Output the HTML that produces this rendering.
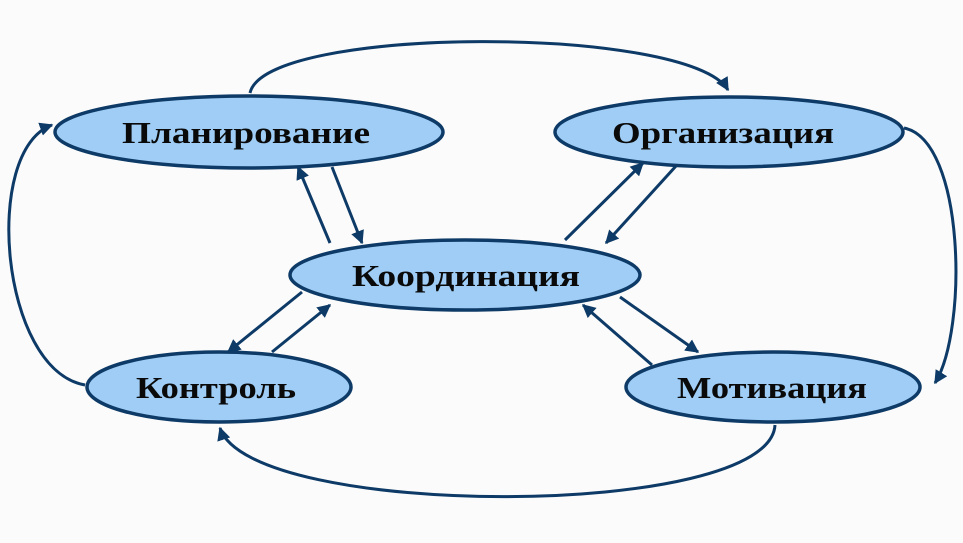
<!DOCTYPE html>
<html><head><meta charset="utf-8"><style>
html,body{margin:0;padding:0;background:#fbfbfb;}
svg{display:block}
text{font-family:"Liberation Serif",serif;font-weight:bold;font-size:31px;fill:#0a0a0a;}
</style></head><body>
<svg width="963" height="543" viewBox="0 0 963 543" xmlns="http://www.w3.org/2000/svg">
<defs>
<marker id="a" viewBox="0 0 10 10" refX="9" refY="5" markerWidth="4.5" markerHeight="4.5" orient="auto" markerUnits="strokeWidth">
<path d="M0,0 L10,5 L0,10 z" fill="#0d3a66"/></marker>
</defs>
<g fill="none" stroke="#0d3a66" stroke-width="3" marker-end="url(#a)">
<path d="M250,93 C265,25 690,25 728,90"/>
<path d="M904,128 C965,140 968,330 935,383"/>
<path d="M775,425 C770,520 250,520 220,428"/>
<path d="M85,385 C0,370 -18,150 52,125"/>
<line x1="330" y1="243" x2="298" y2="167"/>
<line x1="332" y1="167" x2="362" y2="243"/>
<line x1="565" y1="240" x2="643" y2="163"/>
<line x1="676" y1="166" x2="606" y2="243"/>
<line x1="302" y1="292" x2="228" y2="352"/>
<line x1="272" y1="352" x2="330" y2="305"/>
<line x1="620" y1="297" x2="698" y2="352"/>
<line x1="652" y1="365" x2="583" y2="305"/>
</g>
<g fill="#9fcdf5" stroke="#0d3a66" stroke-width="3.5">
<ellipse cx="249" cy="132" rx="194" ry="36"/>
<ellipse cx="729" cy="132" rx="174" ry="35"/>
<ellipse cx="465" cy="275" rx="175" ry="35"/>
<ellipse cx="219" cy="387" rx="132" ry="35"/>
<ellipse cx="773" cy="387" rx="147" ry="35"/>
</g>
<text x="122" y="143" textLength="248" lengthAdjust="spacingAndGlyphs">Планирование</text>
<text x="612" y="143" textLength="222" lengthAdjust="spacingAndGlyphs">Организация</text>
<text x="352" y="286" textLength="228" lengthAdjust="spacingAndGlyphs">Координация</text>
<text x="136" y="398" textLength="160" lengthAdjust="spacingAndGlyphs">Контроль</text>
<text x="677" y="398" textLength="190" lengthAdjust="spacingAndGlyphs">Мотивация</text>
</svg>
</body></html>
